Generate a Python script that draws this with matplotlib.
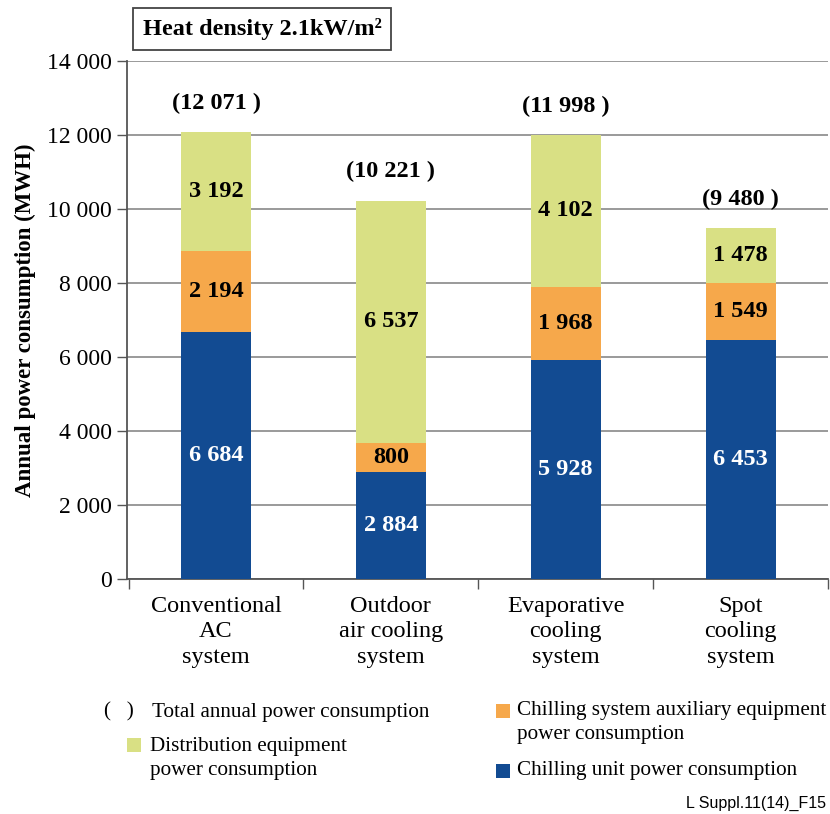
import matplotlib
matplotlib.use("Agg")
import matplotlib.pyplot as plt
from matplotlib.patches import Rectangle
import matplotlib.ticker as mticker

plt.rcParams['font.family'] = ['Liberation Serif', 'DejaVu Serif']

categories = ["Conventional\nAC\nsystem", "Outdoor\nair cooling\nsystem",
              "Evaporative\ncooling\nsystem", "Spot\ncooling\nsystem"]
chilling_unit = [6684, 2884, 5928, 6453]
auxiliary = [2194, 800, 1968, 1549]
distribution = [3192, 6537, 4102, 1478]
totals = [12071, 10221, 11998, 9480]
yticks = [0, 2000, 4000, 6000, 8000, 10000, 12000, 14000]

c_blue = "#124b92"
c_orange = "#f6a84b"
c_green = "#d9e084"

def fmt(v):
    return f"{v:,}".replace(",", " ")

fig = plt.figure(figsize=(8.3, 8.14), dpi=100)
ax = fig.add_axes([127/830, 1-579/814, (828-127)/830, (579-61)/814])

x = list(range(len(categories)))
w = 0.4
ax.bar(x, chilling_unit, width=w, color=c_blue, zorder=3)
bottom2 = chilling_unit
ax.bar(x, auxiliary, width=w, bottom=bottom2, color=c_orange, zorder=3)
bottom3 = [a + b for a, b in zip(chilling_unit, auxiliary)]
ax.bar(x, distribution, width=w, bottom=bottom3, color=c_green, zorder=3)

lfs = 17.5
for i in x:
    ax.text(i, chilling_unit[i]/2, fmt(chilling_unit[i]), ha='center', va='center',
            color='white', fontsize=lfs, fontweight='bold', zorder=4)
    ax.text(i, bottom2[i] + auxiliary[i]/2, fmt(auxiliary[i]), ha='center', va='center',
            color='black', fontsize=lfs, fontweight='bold', zorder=4)
    ax.text(i, bottom3[i] + distribution[i]/2, fmt(distribution[i]), ha='center', va='center',
            color='black', fontsize=lfs, fontweight='bold', zorder=4)
    ax.annotate(f"({fmt(totals[i])} )", xy=(i, totals[i]), xytext=(0, 29),
                textcoords='offset pixels', ha='center', va='center',
                fontsize=lfs, fontweight='bold')

ax.set_ylim(0, 14000)
ax.set_xlim(-0.509, 3.5)
ax.set_yticks(yticks)
ax.yaxis.set_major_formatter(mticker.FuncFormatter(lambda v, p: fmt(int(v))))
ax.grid(axis='y', color='#9a9a9a', linewidth=1.4, zorder=0)
ax.set_axisbelow(True)

ax.set_xticks([-0.5, 0.5, 1.5, 2.5, 3.5])
ax.set_xticklabels([])
ax.set_xticks(x, minor=True)
ax.set_xticklabels(categories, minor=True, fontsize=17.5, linespacing=1.3)
ax.tick_params(axis='x', which='minor', length=0, pad=12)
ax.tick_params(axis='x', which='major', length=7, width=1, color='#555555', direction='out')
ax.tick_params(axis='y', length=7, width=1, color='#555555', labelsize=17, pad=4)

for s in ['top', 'right']:
    ax.spines[s].set_visible(False)
ax.spines['left'].set_color('#555555')
ax.spines['bottom'].set_color('#555555')
ax.spines['left'].set_linewidth(1.3)
ax.spines['bottom'].set_linewidth(1.3)

ax.set_ylabel("Annual power consumption (MWH)", fontsize=16.5, fontweight='bold', labelpad=8)

# title box
fig.text(262/830, 1-29/814, "Heat density 2.1kW/m²", ha='center', va='center',
         fontsize=17.5, fontweight='bold',
         bbox=dict(boxstyle='square,pad=0.4', facecolor='white', edgecolor='#444444', linewidth=1.3))

# legend
fs = 15.2
fig.text(104/830, 1-712/814, "(   )", ha='left', va='center', fontsize=fs)
fig.text(152/830, 1-712/814, "Total annual power consumption", ha='left', va='center', fontsize=fs)

def sq(xp, yp, color):
    fig.patches.append(Rectangle((xp/830, 1-(yp+7)/814), 14/830, 14/814,
                                 transform=fig.transFigure, facecolor=color, edgecolor='none'))

sq(127, 745, c_green)
fig.text(150/830, 1-746/814, "Distribution equipment", ha='left', va='center', fontsize=fs)
fig.text(150/830, 1-771/814, "power consumption", ha='left', va='center', fontsize=fs)
sq(496, 711, c_orange)
fig.text(517/830, 1-711/814, "Chilling system auxiliary equipment", ha='left', va='center', fontsize=fs)
fig.text(517/830, 1-735/814, "power consumption", ha='left', va='center', fontsize=fs)
sq(496, 771, c_blue)
fig.text(517/830, 1-771/814, "Chilling unit power consumption", ha='left', va='center', fontsize=fs)

fig.text(826/830, 1-803/814, "L Suppl.11(14)_F15", ha='right', va='center', fontsize=11.5,
         family=['Liberation Sans', 'DejaVu Sans'])

fig.savefig("out.png", dpi=100)
